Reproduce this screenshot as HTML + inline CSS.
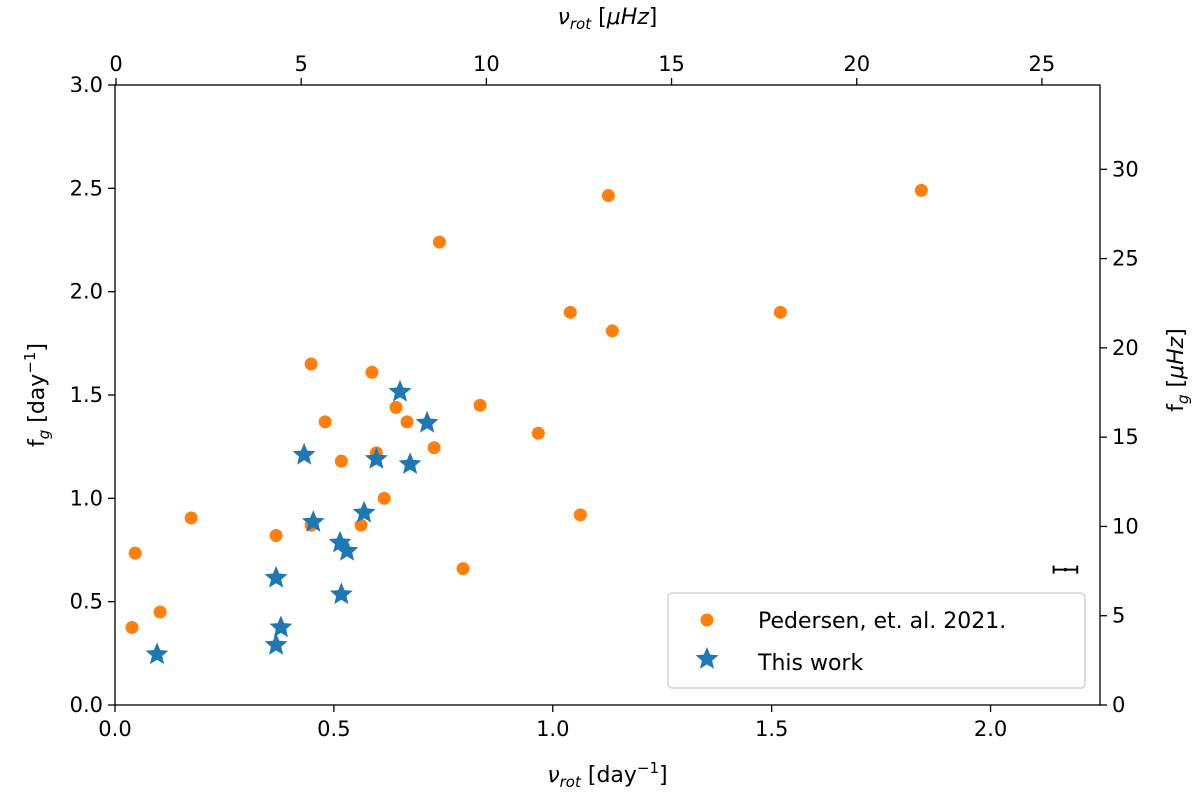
<!DOCTYPE html>
<html><head><meta charset="utf-8"><style>
body{margin:0;background:#fff}
svg{font-family:"DejaVu Sans","Liberation Sans",sans-serif}
</style></head><body>
<svg id="c" width="1200" height="796"></svg>
<script>
const orangeX=[0.039,0.046,0.103,0.174,0.368,0.448,0.448,0.48,0.517,0.562,0.587,0.597,0.615,0.642,0.667,0.729,0.741,0.795,0.834,0.967,1.04,1.063,1.127,1.136,1.52,1.842];
const orangeY=[0.375,0.735,0.45,0.905,0.82,1.65,0.87,1.37,1.18,0.87,1.61,1.22,1.0,1.44,1.37,1.245,2.24,0.66,1.45,1.315,1.90,0.92,2.465,1.81,1.90,2.49];
const blueX=[0.096,0.368,0.368,0.379,0.432,0.453,0.514,0.517,0.53,0.569,0.597,0.651,0.674,0.713];
const blueY=[0.245,0.615,0.29,0.375,1.21,0.885,0.785,0.535,0.745,0.93,1.19,1.515,1.165,1.365];
const errX=[2.171],errY=[0.655],errW=[0.027];
const xTicks=[0,0.5,1.0,1.5,2.0],xLabels=["0.0","0.5","1.0","1.5","2.0"];
const yTicks=[0,0.5,1,1.5,2,2.5,3],yLabels=["0.0","0.5","1.0","1.5","2.0","2.5","3.0"];
const topTicks=[0,5,10,15,20,25];
const rightTicks=[0,5,10,15,20,25,30];
const CONV_TOP=11.82, CONV=11.574;
const L=115,R=1100,T=85,B=705,XMAX=2.25,YMAX=3.0;
const sx=v=>L+v/XMAX*(R-L), sy=v=>B-v/YMAX*(B-T);
const NS="http://www.w3.org/2000/svg",svg=document.getElementById('c');
function mk(tag,attrs,txt){const e=document.createElementNS(NS,tag);for(const k in attrs)e.setAttribute(k,attrs[k]);if(txt!==undefined)e.textContent=txt;svg.appendChild(e);return e;}
let e;
e=mk('rect',{x:L,y:T,width:R-L,height:B-T,fill:'none',stroke:'#000','stroke-width':1.3});


xTicks.forEach((v,i)=>{const x=sx(v);
 e=mk('line',{x1:x,x2:x,y1:B,y2:B+7,stroke:'#000','stroke-width':1.3});
 
 
 e=mk('text',{x:x,y:B+31,'font-size':21,'text-anchor':'middle'},xLabels[i]);
 
 });
yTicks.forEach((v,i)=>{const y=sy(v);
 e=mk('line',{x1:L-7,x2:L,y1:y,y2:y,stroke:'#000','stroke-width':1.3});
 
 
 e=mk('text',{x:L-12,y:y+7,'font-size':21,'text-anchor':'end'},yLabels[i]);
 
 });
topTicks.forEach(v=>{const x=sx(v/CONV_TOP)+1;
 e=mk('line',{x1:x,x2:x,y1:T-7,y2:T,stroke:'#000','stroke-width':1.3});
 
 
 e=mk('text',{x:x,y:T-14,'font-size':21,'text-anchor':'middle'},String(v));
 
 });
rightTicks.forEach(v=>{const y=sy(v/CONV);
 e=mk('line',{x1:R,x2:R+7,y1:y,y2:y,stroke:'#000','stroke-width':1.3});
 
 
 e=mk('text',{x:R+12,y:y+7,'font-size':21},String(v));
 
 });
e=mk('text',{x:(L+R)/2,y:782,'font-size':22,'text-anchor':'middle'});
e.innerHTML='<tspan font-style="italic">ν</tspan><tspan font-style="italic" font-size="15" dy="5">rot</tspan><tspan dy="-5"> [day</tspan><tspan font-size="15" dy="-9">−1</tspan><tspan dy="9">]</tspan>';


e=mk('text',{x:(L+R)/2,y:24,'font-size':22,'text-anchor':'middle'});
e.innerHTML='<tspan font-style="italic">ν</tspan><tspan font-style="italic" font-size="15" dy="5">rot</tspan><tspan dy="-5"> [</tspan><tspan font-style="italic">μHz</tspan>]';


e=mk('text',{x:0,y:0,'font-size':22,'text-anchor':'middle',transform:'translate(44,395) rotate(-90)'});
e.innerHTML='f<tspan font-style="italic" font-size="15" dy="5">g</tspan><tspan dy="-5"> [day</tspan><tspan font-size="15" dy="-9">−1</tspan><tspan dy="9">]</tspan>';


e=mk('text',{x:0,y:0,'font-size':22,'text-anchor':'middle',transform:'translate(1183,370) rotate(-90)'});
e.innerHTML='f<tspan font-style="italic" font-size="15" dy="5">g</tspan><tspan dy="-5"> [</tspan><tspan font-style="italic">μHz</tspan>]';


function star(cx,cy,r){let p=[];for(let i=0;i<10;i++){const rr=i%2?r*0.45:r,a=-Math.PI/2+i*Math.PI/5;p.push((cx+rr*Math.cos(a)).toFixed(1)+','+(cy+rr*Math.sin(a)).toFixed(1));}return p.join(' ');}
orangeX.forEach((v,i)=>{e=mk('circle',{cx:sx(v),cy:sy(orangeY[i]),r:6.5,fill:'#ff7f0e'});
 
 });
blueX.forEach((v,i)=>{e=mk('polygon',{points:star(sx(v),sy(blueY[i]),12),fill:'#1f77b4'});
 
 });
errX.forEach((v,i)=>{const x1=sx(v-errW[i]),x2=sx(v+errW[i]),y=sy(errY[i]);
 e=mk('path',{d:`M${x1},${y}H${x2}M${x1},${y-4}V${y+4}M${x2},${y-4}V${y+4}`,stroke:'#000','stroke-width':2,fill:'none'});
 
 
 e=mk('circle',{cx:sx(v),cy:y,r:1.8,fill:'#000'});
 
 });
e=mk('rect',{x:668,y:593,width:417,height:95,rx:4,fill:'#fff','fill-opacity':0.8,stroke:'#ccc','stroke-width':1.3});


e=mk('circle',{cx:707,cy:620,r:6.5,fill:'#ff7f0e'});


e=mk('text',{x:758,y:628,'font-size':22},'Pedersen, et. al. 2021.');


e=mk('polygon',{points:star(707,659,12),fill:'#1f77b4'});


e=mk('text',{x:758,y:670,'font-size':22},'This work');


</script>
</body></html>
